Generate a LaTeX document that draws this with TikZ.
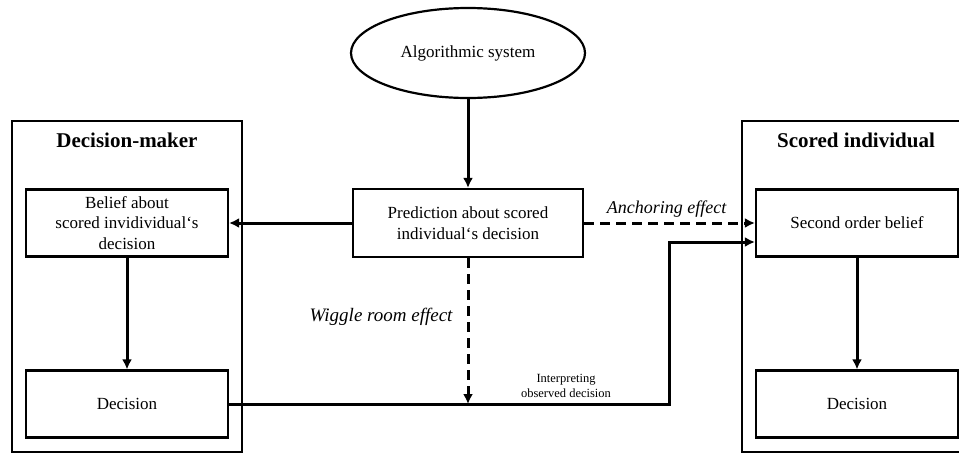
\documentclass[tikz,border=0pt]{standalone}
\usepackage{fontspec}
\setmainfont{Liberation Serif}
\usetikzlibrary{arrows.meta,shapes.geometric}
\tikzset{
    box/.style      = {draw, line width=2.2pt, minimum width=202pt, minimum height=67pt, align=center, font=\fontsize{17}{20.5}\selectfont, inner sep=2pt},
    frame/.style    = {draw, line width=2.2pt},
    title/.style    = {font=\fontsize{21}{24}\selectfont\bfseries},
    conn/.style     = {line width=3pt, -{Latex[length=10pt,width=10pt]}},
    effect/.style   = {font=\fontsize{18}{21}\selectfont\itshape},
    mydashes/.style = {dash pattern=on 10pt off 6pt}
}
\begin{document}
\begin{tikzpicture}[x=1pt, y=-1pt]
        \useasboundingbox (0,0) rectangle (959,453);
        \clip (0,0) rectangle (959,453);
            \draw[frame]                                   ( 12,121) rectangle (242,452);
            \draw[frame]                                   (742,121) rectangle (972,452);
            \node[title]                       (dmtitle)   at (127,140) {Decision-maker};
            \node[title]                       (sititle)   at (856,140) {Scored individual};
            \node[draw, ellipse, line width=2.2pt, minimum width=234pt, minimum height=90pt,
                  font=\fontsize{17}{20.5}\selectfont] (algo) at (468, 53) {Algorithmic system};
            \node[box, minimum width=230pt, minimum height=68pt] (pred) at (468,223) {Prediction about scored\\individual`s decision};
            \node[box]                         (belief)    at (127,223) {Belief about\\scored invidividual`s\\decision};
            \node[box]                         (dmdec)     at (127,404) {Decision};
            \node[box]                         (sobelief)  at (857,223) {Second order belief};
            \node[box]                         (sidec)     at (857,404) {Decision};
            \coordinate                        (wiggle)    at (pred.south |- dmdec.east);
        \draw[conn] (algo.south) -- (pred.north);
        \draw[conn] (pred.west) -- (belief.east);
        \draw[conn] (belief.south) -- (dmdec.north);
        \draw[conn] (sobelief.south) -- (sidec.north);
        \draw[conn, mydashes] (pred.east) -- node[effect, above=1pt, xshift=-3pt] {Anchoring effect} (sobelief.west);
        \draw[conn, mydashes] (pred.south) -- (wiggle);
        \node[effect, anchor=east, font=\fontsize{19}{22}\selectfont\itshape] (wrlabel) at (456,317) {Wiggle room effect};
        \draw[conn] (dmdec.east) -- ++(440,0) |- ([yshift=-19pt]sobelief.west);
        \node[align=center, font=\fontsize{12.5}{15}\selectfont] (interp) at (566,386) {Interpreting\\observed decision};
        \end{tikzpicture}
\end{document}
